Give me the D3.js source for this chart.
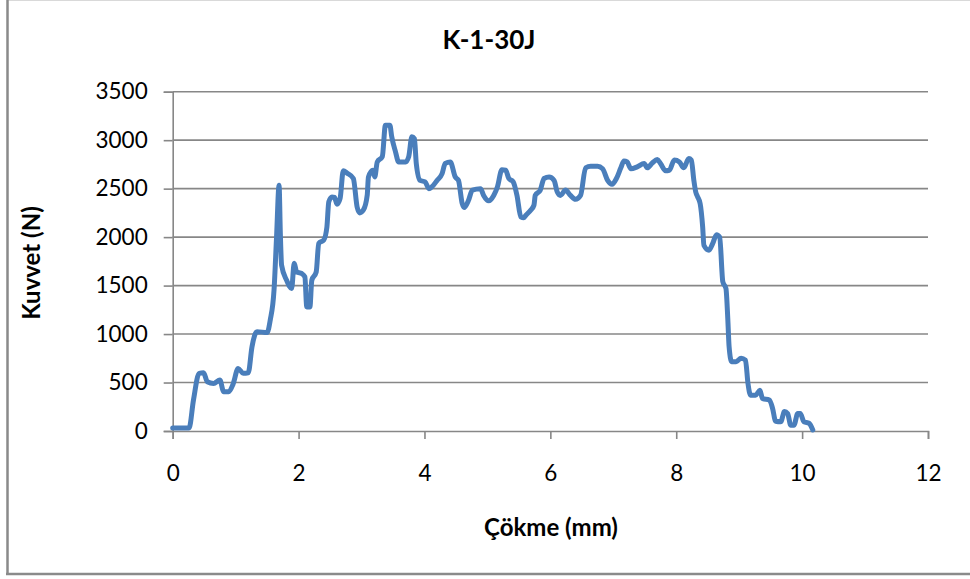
<!DOCTYPE html>
<html>
<head>
<meta charset="utf-8">
<script src="https://cdn.jsdelivr.net/npm/d3@7/dist/d3.min.js"></script>
<style>
  html, body { margin: 0; padding: 0; background: #fff; }
  svg { display: block; }
  text { font-family: Lato, "Open Sans", sans-serif; fill: #000; }
</style>
</head>
<body>
<svg id="chart" width="970" height="579"></svg>
<script>
// Impact test K-1-30J: force versus deflection
const deflection = [
  0, 0.26, 0.33, 0.42, 0.49, 0.55, 0.65, 0.75, 0.81, 0.89, 0.96, 1.04, 1.12, 1.20, 1.26, 1.34,
  1.50, 1.55, 1.61, 1.65, 1.69, 1.71, 1.73, 1.81, 1.89, 1.93, 1.97, 2.05, 2.10, 2.13, 2.18, 2.21,
  2.28, 2.32, 2.40, 2.45, 2.48, 2.53, 2.57, 2.61, 2.66, 2.71, 2.77, 2.87, 2.93, 2.97, 3.03, 3.09,
  3.11, 3.18, 3.21, 3.25, 3.33, 3.38, 3.45, 3.48, 3.54, 3.59, 3.70, 3.75, 3.80, 3.84, 3.87, 3.93,
  4.01, 4.07, 4.12, 4.20, 4.28, 4.33, 4.41, 4.49, 4.54, 4.60, 4.63, 4.70, 4.76, 4.89, 4.94, 5.02,
  5.10, 5.16, 5.23, 5.29, 5.34, 5.41, 5.47, 5.53, 5.58, 5.61, 5.69, 5.74, 5.76, 5.84, 5.90, 5.98,
  6.06, 6.11, 6.16, 6.24, 6.32, 6.40, 6.48, 6.56, 6.64, 6.75, 6.83, 6.91, 6.98, 7.05, 7.12, 7.17,
  7.22, 7.28, 7.38, 7.49, 7.54, 7.62, 7.70, 7.75, 7.83, 7.89, 7.97, 8.05, 8.12, 8.20, 8.24, 8.28,
  8.31, 8.34, 8.38, 8.42, 8.44, 8.52, 8.58, 8.64, 8.69, 8.74, 8.79, 8.82, 8.84, 8.88, 8.95, 9.03,
  9.10, 9.14, 9.18, 9.26, 9.33, 9.37, 9.48, 9.53, 9.58, 9.66, 9.72, 9.77, 9.82, 9.87, 9.93, 9.97,
  10.03, 10.11, 10.17
];
const force = [
  30, 30, 320, 595, 600, 508, 490, 525, 405, 405, 485, 645, 595, 600, 870, 1025,
  1015, 1145, 1455, 2000, 2535, 2040, 1710, 1555, 1470, 1730, 1640, 1625, 1590, 1280, 1280, 1555,
  1640, 1935, 1970, 2105, 2365, 2415, 2410, 2340, 2400, 2685, 2660, 2605, 2310, 2250, 2280, 2430,
  2620, 2690, 2620, 2775, 2830, 3155, 3155, 3035, 2880, 2775, 2775, 2830, 3035, 3015, 2760, 2585,
  2570, 2500, 2520, 2585, 2655, 2760, 2775, 2620, 2585, 2345, 2305, 2380, 2485, 2500, 2430, 2375,
  2430, 2520, 2695, 2690, 2605, 2570, 2430, 2210, 2200, 2225, 2280, 2330, 2430, 2485, 2605, 2620,
  2585, 2465, 2430, 2485, 2430, 2390, 2430, 2715, 2730, 2730, 2705, 2585, 2545, 2605, 2715, 2785,
  2775, 2705, 2725, 2760, 2715, 2765, 2800, 2760, 2685, 2690, 2795, 2775, 2715, 2810, 2795, 2585,
  2465, 2415, 2345, 2105, 1915, 1865, 1935, 2025, 2000, 1540, 1470, 1145, 870, 715, 715, 750,
  730, 490, 370, 370, 420, 335, 320, 235, 100, 95, 200, 180, 60, 60, 180, 180,
  95, 80, 10
];
const xTicks = [0, 2, 4, 6, 8, 10, 12];
const yTicks = [0, 500, 1000, 1500, 2000, 2500, 3000, 3500];
const titleText = "K-1-30J";
const xTitle = "Çökme (mm)";
const yTitle = "Kuvvet (N)";

const svg = d3.select("#chart");
const gridColor = "#878787";
const lineColor = "#4a7ebb";

// outer chart frame
svg.append("line").attr("x1", 8).attr("x2", 970).attr("y1", 0.5).attr("y2", 0.5)
  .attr("stroke", "#d9d9d9").attr("stroke-width", 1);
svg.append("line").attr("x1", 7.5).attr("x2", 7.5).attr("y1", 0).attr("y2", 575)
  .attr("stroke", "#8a8a8a").attr("stroke-width", 2.5);
svg.append("line").attr("x1", 6).attr("x2", 970).attr("y1", 574).attr("y2", 574)
  .attr("stroke", "#8a8a8a").attr("stroke-width", 2.5);

const x = d3.scaleLinear().domain([0, 12]).range([172.7, 928]);
const y = d3.scaleLinear().domain([0, 3500]).range([431, 91.7]);

// horizontal gridlines
svg.append("g").selectAll("line").data(yTicks.filter(d => d > 0)).join("line")
  .attr("x1", x(0)).attr("x2", x(12))
  .attr("y1", d => y(d)).attr("y2", d => y(d))
  .attr("stroke", gridColor).attr("stroke-width", 1.6);

// y axis
const yAxis = svg.append("g").attr("transform", `translate(${x(0)},0)`)
  .call(d3.axisLeft(y).tickValues(yTicks).tickSize(9).tickPadding(16).tickFormat(d3.format("d")));
yAxis.select(".domain").attr("stroke", gridColor).attr("stroke-width", 1.6);
yAxis.selectAll(".tick line").attr("stroke", gridColor).attr("stroke-width", 1.6);
yAxis.selectAll("text").style("font-family", "Lato, sans-serif").style("font-size", "22.5px").attr("fill", "#000");

// x axis
const xAxis = svg.append("g").attr("transform", `translate(0,${y(0)})`)
  .call(d3.axisBottom(x).tickValues(xTicks).tickSize(8).tickPadding(26).tickFormat(d3.format("d")));
xAxis.select(".domain").attr("stroke", gridColor).attr("stroke-width", 1.6);
xAxis.selectAll(".tick line").attr("stroke", gridColor).attr("stroke-width", 1.6);
xAxis.selectAll("text").style("font-family", "Lato, sans-serif").style("font-size", "22.5px").attr("fill", "#000");

// force-deflection curve
const pts = deflection.map((d, i) => [d, force[i]]);
svg.append("path")
  .datum(pts)
  .attr("fill", "none")
  .attr("stroke", lineColor)
  .attr("stroke-width", 5)
  .attr("stroke-linejoin", "round")
  .attr("stroke-linecap", "round")
  .attr("d", d3.line().x(d => x(d[0])).y(d => y(d[1])).curve(d3.curveMonotoneX));

// titles
svg.append("text").attr("x", 489).attr("y", 49).attr("text-anchor", "middle")
  .style("font-size", "26px").style("font-weight", "bold").text(titleText);
svg.append("text").attr("x", 551).attr("y", 536).attr("text-anchor", "middle")
  .style("font-size", "24px").style("font-weight", "bold").text(xTitle);
svg.append("text").attr("transform", "translate(40,263) rotate(-90)").attr("text-anchor", "middle")
  .style("font-size", "24px").style("font-weight", "bold").text(yTitle);
</script>
</body>
</html>
